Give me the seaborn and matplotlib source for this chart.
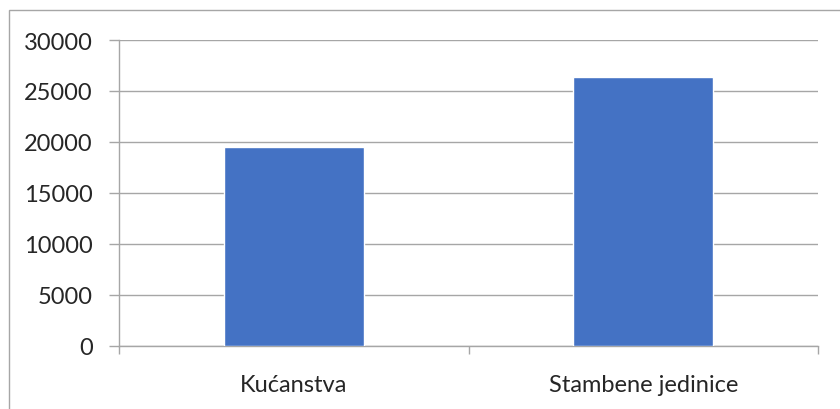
import matplotlib
matplotlib.use("Agg")
import matplotlib.pyplot as plt
from matplotlib.patches import Rectangle
from matplotlib.ticker import FixedLocator
import seaborn as sns
import pandas as pd

# values
categories = ["Kućanstva", "Stambene jedinice"]
values = [19500, 26370]
y_ticks = [0, 5000, 10000, 15000, 20000, 25000, 30000]

df = pd.DataFrame({"kategorija": categories, "broj": values})

sns.set_style("white")
plt.rcParams['font.family'] = ['Lato', 'DejaVu Sans']

grid_col = '#a6a6a6'

fig = plt.figure(figsize=(8.4, 4.1), dpi=100)
ax = fig.add_axes([119/840, 1 - 347/410, (818 - 119)/840, (347 - 41)/410])

sns.barplot(data=df, x="kategorija", y="broj", color="#4472C4",
            width=0.4, saturation=1, ax=ax, zorder=3)

ax.set_xlim(-0.5, 1.5)
ax.set_ylim(0, 30000)
ax.set_yticks(y_ticks)
ax.set_yticklabels([str(t) for t in y_ticks], fontsize=17)
ax.set_xlabel("")
ax.set_ylabel("")
ax.grid(axis='y', color=grid_col, linewidth=1.0, zorder=0)
ax.set_axisbelow(True)

for side in ['top', 'right']:
    ax.spines[side].set_visible(False)
for side in ['left', 'bottom']:
    ax.spines[side].set_color(grid_col)
    ax.spines[side].set_linewidth(1.0)

ax.tick_params(axis='y', left=True, length=7, width=1.0, color=grid_col,
               pad=12, labelsize=17)
ax.tick_params(axis='x', which='major', bottom=True, length=0, pad=20,
               labelsize=17)
ax.xaxis.set_minor_locator(FixedLocator([-0.5, 0.5, 1.5]))
ax.tick_params(axis='x', which='minor', bottom=True, length=6, width=1.0,
               color=grid_col)

# chart frame (cut off on right and bottom)
fig.patches.append(Rectangle((9/840, -0.1), 1.0, 1 - 11/410 + 0.1,
                             transform=fig.transFigure, fill=False,
                             edgecolor=grid_col, linewidth=1.0))

fig.savefig("out.png", dpi=100)
